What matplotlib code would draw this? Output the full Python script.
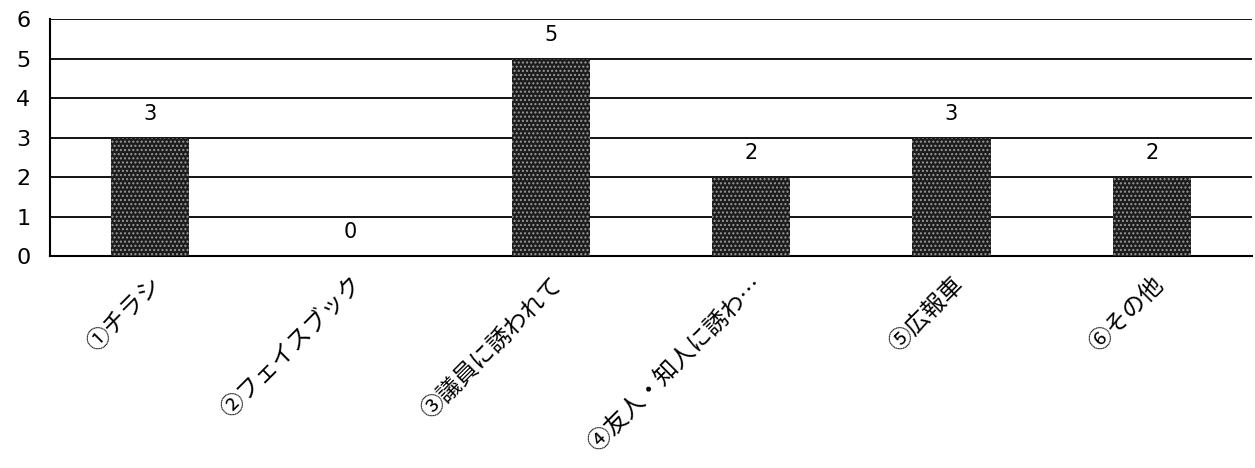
import matplotlib
matplotlib.use('Agg')
from matplotlib import pyplot as plt

plt.rcParams['font.family'] = ['Noto Sans CJK JP', 'DejaVu Sans']

categories = ['①チラシ', '②フェイスブック', '③議員に誘われて', '④友人・知人に誘わ…', '⑤広報車', '⑥その他']
counts = [3, 0, 5, 2, 3, 2]
y_ticks = [0, 1, 2, 3, 4, 5, 6]

fig = plt.figure(figsize=(12.55, 4.68), dpi=100)
ax = fig.add_axes([0.0398, 0.453, 0.9578, 0.506])

x = list(range(len(categories)))
bars = ax.bar(x, counts, width=0.39, color='#1c1c1c', edgecolor='#9a9a9a',
              hatch='....', linewidth=0, zorder=3)

for xi, v in zip(x, counts):
    ax.annotate(str(v), (xi, v), xytext=(0, 10), textcoords='offset points',
                ha='center', va='bottom', fontsize=15, family='DejaVu Sans')

ax.set_xlim(-0.5, len(categories) - 0.5)
ax.set_ylim(0, 6)
ax.set_yticks(y_ticks)
ax.set_yticklabels([str(t) for t in y_ticks], family='DejaVu Sans')
ax.yaxis.grid(True, color='black', linewidth=1.3)
ax.set_axisbelow(True)

for s in ['top', 'right']:
    ax.spines[s].set_visible(False)
ax.spines['left'].set_linewidth(1.5)
ax.spines['bottom'].set_linewidth(1.5)

ax.tick_params(axis='y', length=0, pad=14, labelsize=16)
ax.tick_params(axis='x', length=0, pad=12, labelsize=17)
ax.set_xticks(x)
ax.set_xticklabels(categories, rotation=45, ha='right', rotation_mode='anchor')

fig.savefig('out.png', dpi=100)
